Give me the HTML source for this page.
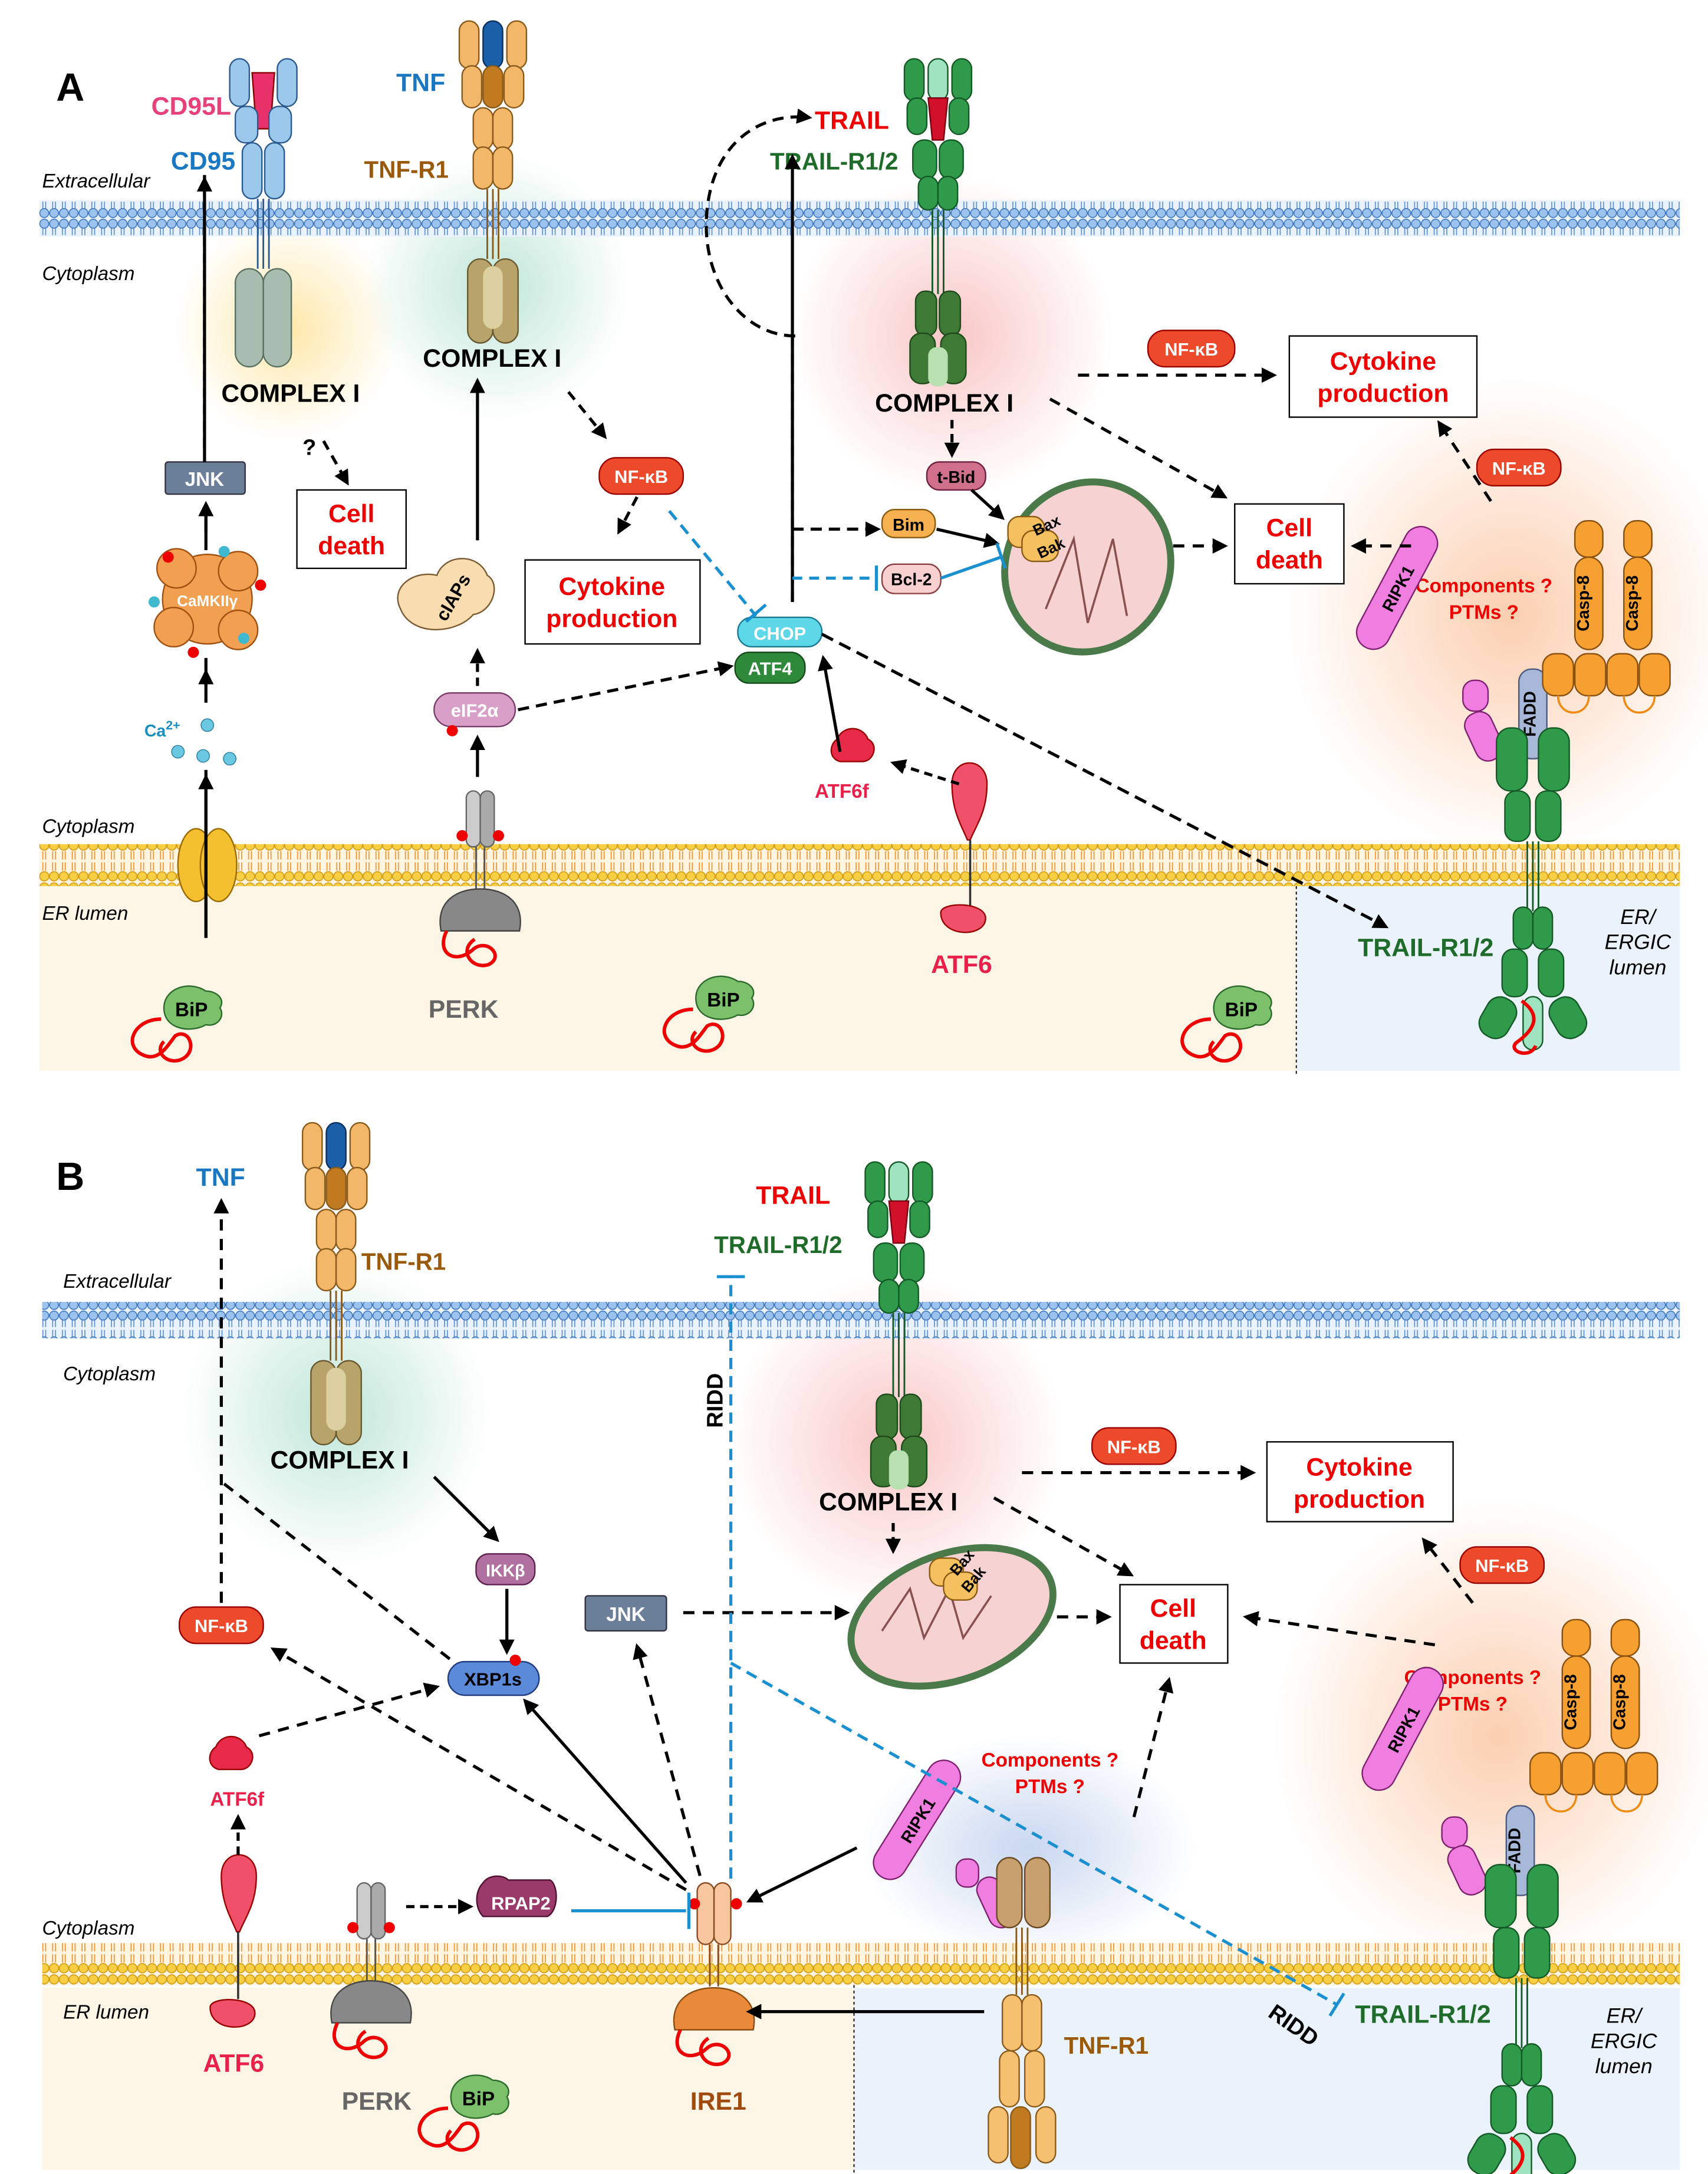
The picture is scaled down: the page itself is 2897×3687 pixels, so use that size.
<!DOCTYPE html>
<html><head><meta charset="utf-8"><style>
html,body{margin:0;padding:0;background:#fff}
svg{display:block}
text{font-family:"Liberation Sans",Arial,sans-serif}
.b{font-weight:bold}
.i{font-style:italic}
</style></head><body>
<svg width="2897" height="3687" viewBox="0 0 1220 1553" xmlns="http://www.w3.org/2000/svg">
<defs>
<pattern id="mB" width="7" height="26" patternUnits="userSpaceOnUse">
<rect width="7" height="26" fill="#eaf2fb"/>
<path d="M2.5 7v5M4.5 7v5M2.5 14v5M4.5 14v5" stroke="#5a8fd0" stroke-width="0.7"/>
<circle cx="3.5" cy="3.8" r="3.2" fill="#9cc3ee" stroke="#3f77bf" stroke-width="0.7"/>
<circle cx="3.5" cy="22.2" r="3.2" fill="#9cc3ee" stroke="#3f77bf" stroke-width="0.7"/>
</pattern>
<pattern id="mY" width="7" height="30" patternUnits="userSpaceOnUse">
<rect width="7" height="30" fill="#fff5e0"/>
<path d="M2.5 8v6M4.5 8v6M2.5 16v6M4.5 16v6" stroke="#f0902a" stroke-width="0.7"/>
<circle cx="3.5" cy="4" r="3.3" fill="#f7cf45" stroke="#d49a10" stroke-width="0.7"/>
<circle cx="3.5" cy="26" r="3.3" fill="#f7cf45" stroke="#d49a10" stroke-width="0.7"/>
</pattern>
<radialGradient id="gY"><stop offset="0" stop-color="#fde7a8"/><stop offset="1" stop-color="#fde7a8" stop-opacity="0"/></radialGradient>
<radialGradient id="gT"><stop offset="0" stop-color="#bfe6da"/><stop offset="1" stop-color="#bfe6da" stop-opacity="0"/></radialGradient>
<radialGradient id="gP"><stop offset="0" stop-color="#f9c6c6"/><stop offset="1" stop-color="#f9c6c6" stop-opacity="0"/></radialGradient>
<radialGradient id="gO"><stop offset="0" stop-color="#fbcfb0"/><stop offset="1" stop-color="#fbcfb0" stop-opacity="0"/></radialGradient>
<radialGradient id="gBl"><stop offset="0" stop-color="#c9d7f0"/><stop offset="1" stop-color="#c9d7f0" stop-opacity="0"/></radialGradient>
<marker id="ah" viewBox="0 0 10 10" refX="8" refY="5" markerWidth="5" markerHeight="5" orient="auto"><path d="M0 0L10 5L0 10z" fill="#000"/></marker>
<g id="trailR">
<rect x="-24" y="0" width="14" height="30" rx="7" fill="#2e9a4a" stroke="#145a26"/>
<rect x="10" y="0" width="14" height="30" rx="7" fill="#2e9a4a" stroke="#145a26"/>
<rect x="-7" y="0" width="14" height="30" rx="7" fill="#9fe3c0" stroke="#145a26"/>
<rect x="-22" y="28" width="14" height="26" rx="7" fill="#2e9a4a" stroke="#145a26"/>
<rect x="8" y="28" width="14" height="26" rx="7" fill="#2e9a4a" stroke="#145a26"/>
<path d="M-7 28h14l-3 30h-8z" fill="#d1102a" stroke="#7a0010"/>
<rect x="-18" y="58" width="17" height="28" rx="8" fill="#2e9a4a" stroke="#145a26"/>
<rect x="1" y="58" width="17" height="28" rx="8" fill="#2e9a4a" stroke="#145a26"/>
<rect x="-14" y="84" width="14" height="24" rx="7" fill="#2e9a4a" stroke="#145a26"/>
<rect x="0" y="84" width="14" height="24" rx="7" fill="#2e9a4a" stroke="#145a26"/>
<path d="M-4 108v60M0 108v60M4 108v60" stroke="#145a26" stroke-width="1.2"/>
<rect x="-16" y="166" width="15" height="32" rx="7" fill="#3e7a36" stroke="#1e4a1a"/>
<rect x="1" y="166" width="15" height="32" rx="7" fill="#3e7a36" stroke="#1e4a1a"/>
<rect x="-20" y="196" width="18" height="36" rx="8" fill="#3e7a36" stroke="#1e4a1a"/>
<rect x="2" y="196" width="18" height="36" rx="8" fill="#3e7a36" stroke="#1e4a1a"/>
<rect x="-7" y="206" width="14" height="28" rx="6" fill="#b8e0b0"/>
</g>
<g id="tnfR">
<rect x="-24" y="0" width="14" height="34" rx="7" fill="#f2b768" stroke="#8a5a1a"/>
<rect x="10" y="0" width="14" height="34" rx="7" fill="#f2b768" stroke="#8a5a1a"/>
<rect x="-7" y="0" width="14" height="34" rx="7" fill="#1a5fa8" stroke="#0a3060"/>
<rect x="-22" y="32" width="14" height="30" rx="7" fill="#f2b768" stroke="#8a5a1a"/>
<rect x="8" y="32" width="14" height="30" rx="7" fill="#f2b768" stroke="#8a5a1a"/>
<rect x="-7" y="32" width="14" height="30" rx="7" fill="#c07a20" stroke="#8a5a1a"/>
<rect x="-14" y="62" width="14" height="30" rx="7" fill="#f2b768" stroke="#8a5a1a"/>
<rect x="0" y="62" width="14" height="30" rx="7" fill="#f2b768" stroke="#8a5a1a"/>
<rect x="-14" y="90" width="14" height="30" rx="7" fill="#f2b768" stroke="#8a5a1a"/>
<rect x="0" y="90" width="14" height="30" rx="7" fill="#f2b768" stroke="#8a5a1a"/>
<path d="M-4 120v50M0 120v50M4 120v50" stroke="#8a5a1a" stroke-width="1.2"/>
<rect x="-18" y="170" width="18" height="60" rx="9" fill="#b8a46a" stroke="#6a5a30"/>
<rect x="0" y="170" width="18" height="60" rx="9" fill="#b8a46a" stroke="#6a5a30"/>
<rect x="-7" y="175" width="14" height="45" rx="7" fill="#ddd0a0"/>
</g>
<g id="bip">
<path d="M-18 0c0-14 18-20 30-12c8 0 14 6 10 12c4 6-2 14-10 12c-10 6-30 4-30-12z" fill="#7cc06c" stroke="#2a6a2a"/>
<text x="-10" y="6" font-size="14" class="b" fill="#000">BiP</text>
<path d="M-20 8c-20 0-28 20-12 26c10 4 16-6 22-14c10-6 16 10 6 16c-10 6-22-4-14-12" fill="none" stroke="#e00" stroke-width="2.5"/>
</g>
<g id="perk">
<rect x="-10" y="0" width="10" height="40" rx="5" fill="#ccc" stroke="#666"/>
<rect x="0" y="0" width="10" height="40" rx="5" fill="#aaa" stroke="#666"/>
<circle cx="-13" cy="32" r="4" fill="#e00"/><circle cx="13" cy="32" r="4" fill="#e00"/>
<path d="M-3 40v30M3 40v30" stroke="#555" stroke-width="1.2"/>
<path d="M-28 100c-4-20 10-30 28-30s32 10 28 30z" fill="#888" stroke="#444"/>
<path d="M-24 100c-8 16 6 24 18 14c10-10 24 4 12 10c-12 4-22-10-10-18" fill="none" stroke="#e00" stroke-width="2.5"/>
</g>
</defs>

<!-- ===== PANEL A ===== -->
<rect x="28" y="633" width="898" height="132" fill="#fdf6e6"/>
<rect x="926" y="633" width="274" height="132" fill="#eaf3fb"/>
<line x1="926" y1="605" x2="926" y2="768" stroke="#000" stroke-dasharray="2 2" stroke-width="0.8"/>

<circle cx="205" cy="235" r="80" fill="url(#gY)"/>
<circle cx="355" cy="205" r="95" fill="url(#gT)"/>
<circle cx="680" cy="240" r="115" fill="url(#gP)"/>
<ellipse cx="1080" cy="440" rx="160" ry="170" fill="url(#gO)"/>

<rect x="28" y="143" width="1172" height="26" fill="url(#mB)"/>
<rect x="28" y="603" width="1172" height="30" fill="url(#mY)"/>

<text x="40" y="72" font-size="28" class="b">A</text>
<text x="108" y="82" font-size="18" class="b" fill="#e8407a">CD95L</text>
<text x="122" y="121" font-size="18" class="b" fill="#1a78c2">CD95</text>
<text x="30" y="134" font-size="14" class="i">Extracellular</text>
<text x="30" y="200" font-size="14" class="i">Cytoplasm</text>

<!-- CD95 receptor -->
<g transform="translate(188,42)">
<rect x="-24" y="0" width="14" height="34" rx="7" fill="#9cc8ec" stroke="#2a5a90"/>
<rect x="10" y="0" width="14" height="34" rx="7" fill="#9cc8ec" stroke="#2a5a90"/>
<path d="M-8 10h16l-3 40h-10z" fill="#e8306a" stroke="#800"/>
<rect x="-20" y="34" width="16" height="26" rx="7" fill="#9cc8ec" stroke="#2a5a90"/>
<rect x="4" y="34" width="16" height="26" rx="7" fill="#9cc8ec" stroke="#2a5a90"/>
<rect x="-15" y="60" width="14" height="40" rx="7" fill="#9cc8ec" stroke="#2a5a90"/>
<rect x="1" y="60" width="14" height="40" rx="7" fill="#9cc8ec" stroke="#2a5a90"/>
<path d="M-4 100v50M0 100v50M4 100v50" stroke="#2a5a90" stroke-width="1.2"/>
<rect x="-20" y="150" width="20" height="70" rx="10" fill="#a8bdb0" stroke="#5a7060"/>
<rect x="0" y="150" width="20" height="70" rx="10" fill="#a8bdb0" stroke="#5a7060"/>
</g>
<text x="158" y="287" font-size="18" class="b">COMPLEX I</text>

<g transform="translate(352,15)"><use href="#tnfR"/></g>
<text x="283" y="65" font-size="18" class="b" fill="#1a78c2">TNF</text>
<text x="260" y="127" font-size="17" class="b" fill="#9b5a0a">TNF-R1</text>
<text x="302" y="262" font-size="18" class="b">COMPLEX I</text>

<g transform="translate(670,42)"><use href="#trailR"/></g>
<text x="582" y="92" font-size="18" class="b" fill="#e00">TRAIL</text>
<text x="550" y="121" font-size="17" class="b" fill="#1f6b2a">TRAIL-R1/2</text>
<text x="625" y="294" font-size="18" class="b">COMPLEX I</text>

<!-- boxes -->
<rect x="921" y="240" width="134" height="58" fill="#fff" stroke="#000"/>
<text x="988" y="264" font-size="18" class="b" fill="#e00" text-anchor="middle">Cytokine</text>
<text x="988" y="287" font-size="18" class="b" fill="#e00" text-anchor="middle">production</text>
<rect x="212" y="350" width="78" height="56" fill="#fff" stroke="#000"/>
<text x="251" y="373" font-size="18" class="b" fill="#e00" text-anchor="middle">Cell</text>
<text x="251" y="396" font-size="18" class="b" fill="#e00" text-anchor="middle">death</text>
<rect x="375" y="400" width="125" height="60" fill="#fff" stroke="#000"/>
<text x="437" y="425" font-size="18" class="b" fill="#e00" text-anchor="middle">Cytokine</text>
<text x="437" y="448" font-size="18" class="b" fill="#e00" text-anchor="middle">production</text>
<rect x="882" y="360" width="78" height="57" fill="#fff" stroke="#000"/>
<text x="921" y="383" font-size="18" class="b" fill="#e00" text-anchor="middle">Cell</text>
<text x="921" y="406" font-size="18" class="b" fill="#e00" text-anchor="middle">death</text>

<!-- NF-kB pills A -->
<g font-size="13" class="b" fill="#fff" text-anchor="middle">
<rect x="820" y="236" width="62" height="26" rx="12" fill="#ec4a2a" stroke="#900"/><text x="851" y="254">NF-κB</text>
<rect x="428" y="327" width="60" height="26" rx="12" fill="#ec4a2a" stroke="#900"/><text x="458" y="345">NF-κB</text>
<rect x="1055" y="321" width="60" height="26" rx="12" fill="#ec4a2a" stroke="#900"/><text x="1085" y="339">NF-κB</text>
</g>

<rect x="118" y="330" width="57" height="23" rx="2" fill="#6b7f99" stroke="#334"/>
<text x="146" y="347" font-size="14" class="b" fill="#fff" text-anchor="middle">JNK</text>
<!-- CaMKII -->
<g transform="translate(148,428)">
<circle r="32" fill="#f0a050" stroke="#a05010"/>
<circle cx="-22" cy="-22" r="14" fill="#f0a050" stroke="#a05010"/>
<circle cx="22" cy="-20" r="14" fill="#f0a050" stroke="#a05010"/>
<circle cx="-24" cy="20" r="14" fill="#f0a050" stroke="#a05010"/>
<circle cx="22" cy="22" r="14" fill="#f0a050" stroke="#a05010"/>
<circle cx="-28" cy="-30" r="4" fill="#e00"/><circle cx="38" cy="-10" r="4" fill="#e00"/><circle cx="-10" cy="38" r="4" fill="#e00"/>
<circle cx="12" cy="-34" r="4" fill="#40b8d0"/><circle cx="-38" cy="2" r="4" fill="#40b8d0"/><circle cx="26" cy="28" r="4" fill="#40b8d0"/>
<text x="0" y="5" font-size="11" class="b" fill="#fff" text-anchor="middle">CaMKIIγ</text>
</g>
<text x="103" y="526" font-size="12" class="b" fill="#1a90c0">Ca<tspan font-size="9" dy="-5">2+</tspan></text>
<g fill="#6ac8e0" stroke="#2a7aa0" stroke-width="0.6">
<circle cx="148" cy="518" r="4.5"/><circle cx="127" cy="537" r="4.5"/><circle cx="145" cy="540" r="4.5"/><circle cx="164" cy="542" r="4.5"/>
</g>
<!-- Ca channel -->
<g transform="translate(148,618)">
<ellipse cx="-8" cy="0" rx="13" ry="26" fill="#f5c030" stroke="#9a6a00"/>
<ellipse cx="8" cy="0" rx="13" ry="26" fill="#f5c030" stroke="#9a6a00"/>
</g>
<!-- cIAPs -->
<g transform="translate(322,425)">
<path d="M-36 10c-8-16 10-28 26-24c6-16 30-16 36 0c10 6 4 26-10 28c-12 14-44 16-52-4z" fill="#f9dcb0" stroke="#7a5a30"/>
<text x="2" y="6" font-size="13" class="b" text-anchor="middle" transform="rotate(-60 2 2)">cIAPs</text>
</g>
<rect x="310" y="495" width="58" height="24" rx="12" fill="#d8a0c8" stroke="#7a3a6a"/>
<text x="339" y="512" font-size="13" class="b" fill="#fff" text-anchor="middle">eIF2α</text>
<circle cx="323" cy="522" r="4" fill="#e00"/>
<g transform="translate(343,565)"><use href="#perk"/></g>
<text x="306" y="727" font-size="18" class="b" fill="#666">PERK</text>

<rect x="527" y="441" width="60" height="21" rx="10" fill="#5cd8e8" stroke="#1a7a90"/>
<text x="557" y="457" font-size="13" class="b" fill="#fff" text-anchor="middle">CHOP</text>
<rect x="525" y="466" width="50" height="22" rx="10" fill="#2e8a3a" stroke="#144a1a"/>
<text x="550" y="482" font-size="13" class="b" fill="#fff" text-anchor="middle">ATF4</text>

<path d="M598 528c4-10 18-10 22 0c8 4 4 16-4 16h-16c-8-2-8-12-2-16z" fill="#e82a4a" stroke="#900"/>
<text x="582" y="570" font-size="14" class="b" fill="#e8204a">ATF6f</text>
<path d="M680 560c0-20 25-20 25 0c0 20-8 30-12 40h-2c-4-10-11-20-11-40z" fill="#f0506a" stroke="#900"/>
<path d="M693 600v48" stroke="#333" stroke-width="1.5"/>
<path d="M672 652c0-8 32-8 32 4c0 14-32 14-32-4z" fill="#f0506a" stroke="#900"/>
<text x="665" y="695" font-size="18" class="b" fill="#e8204a">ATF6</text>

<!-- mito A -->
<g transform="translate(777,405)">
<ellipse rx="58" ry="62" fill="#f7d2d2" stroke="#4a7a4a" stroke-width="5" transform="rotate(35)"/>
<path d="M-30 30l20-50 10 60 18-60 10 55" fill="none" stroke="#8a5050" stroke-width="1.5"/>
</g>
<g transform="translate(740,383)">
<rect x="-20" y="-14" width="26" height="22" rx="8" fill="#f5c060" stroke="#8a5a10"/>
<rect x="-10" y="-4" width="26" height="22" rx="8" fill="#f5c060" stroke="#8a5a10"/>
<text x="0" y="0" font-size="11" class="b" transform="rotate(-25)">Bax</text>
<text x="-4" y="16" font-size="11" class="b" transform="rotate(-25)">Bak</text>
</g>
<rect x="662" y="330" width="42" height="20" rx="9" fill="#d0708a" stroke="#702040"/>
<text x="683" y="345" font-size="12" class="b" text-anchor="middle">t-Bid</text>
<rect x="630" y="364" width="38" height="20" rx="9" fill="#f5b050" stroke="#8a5a10"/>
<text x="649" y="379" font-size="12" class="b" text-anchor="middle">Bim</text>
<rect x="630" y="403" width="42" height="21" rx="9" fill="#f8d0d0" stroke="#8a4040"/>
<text x="651" y="418" font-size="12" class="b" text-anchor="middle">Bcl-2</text>

<!-- right death complex A -->
<text x="1060" y="423" font-size="14" class="b" fill="#e00" text-anchor="middle">Components ?</text>
<text x="1060" y="442" font-size="14" class="b" fill="#e00" text-anchor="middle">PTMs ?</text>
<g transform="translate(998,420) rotate(-62)">
<rect x="-48" y="-12" width="96" height="24" rx="12" fill="#f07ee0" stroke="#802070"/>
<text x="0" y="5" font-size="12" class="b" text-anchor="middle">RIPK1</text>
</g>
<rect x="1045" y="486" width="18" height="22" rx="8" fill="#f07ee0" stroke="#802070"/>
<rect x="1050" y="508" width="20" height="36" rx="9" fill="#f07ee0" stroke="#802070" transform="rotate(-25 1060 526)"/>
<rect x="1085" y="478" width="20" height="64" rx="9" fill="#a8b8d8" stroke="#4a5a80"/>
<text x="1095" y="512" font-size="12" class="b" text-anchor="middle" transform="rotate(-90 1095 510)">FADD</text>
<g fill="#f5a030" stroke="#8a5010">
<rect x="1125" y="372" width="20" height="26" rx="9"/><rect x="1125" y="398" width="20" height="66" rx="10"/>
<rect x="1160" y="372" width="20" height="26" rx="9"/><rect x="1160" y="398" width="20" height="66" rx="10"/>
<rect x="1102" y="467" width="22" height="30" rx="9"/><rect x="1125" y="467" width="22" height="30" rx="9"/>
<rect x="1148" y="467" width="22" height="30" rx="9"/><rect x="1171" y="467" width="22" height="30" rx="9"/>
</g>
<text x="1135" y="431" font-size="12" class="b" text-anchor="middle" transform="rotate(-90 1135 431)">Casp-8</text>
<text x="1170" y="431" font-size="12" class="b" text-anchor="middle" transform="rotate(-90 1170 431)">Casp-8</text>
<path d="M1113 497c0 16 22 16 22 0M1160 497c0 16 22 16 22 0" fill="none" stroke="#f08a10" stroke-width="1.5"/>
<g transform="translate(1095,520)">
<rect x="-26" y="0" width="22" height="45" rx="10" fill="#2e9a4a" stroke="#145a26"/>
<rect x="4" y="0" width="22" height="45" rx="10" fill="#2e9a4a" stroke="#145a26"/>
<rect x="-20" y="45" width="18" height="36" rx="8" fill="#2e9a4a" stroke="#145a26"/>
<rect x="2" y="45" width="18" height="36" rx="8" fill="#2e9a4a" stroke="#145a26"/>
<path d="M-4 81v50M0 81v50M4 81v50" stroke="#145a26" stroke-width="1.2"/>
<rect x="-14" y="128" width="14" height="30" rx="7" fill="#2e9a4a" stroke="#145a26"/>
<rect x="0" y="128" width="14" height="30" rx="7" fill="#2e9a4a" stroke="#145a26"/>
<rect x="-22" y="158" width="18" height="34" rx="8" fill="#2e9a4a" stroke="#145a26"/>
<rect x="4" y="158" width="18" height="34" rx="8" fill="#2e9a4a" stroke="#145a26"/>
<rect x="-36" y="192" width="22" height="30" rx="10" fill="#2e9a4a" stroke="#145a26" transform="rotate(30 -25 207)"/>
<rect x="14" y="192" width="22" height="30" rx="10" fill="#2e9a4a" stroke="#145a26" transform="rotate(-30 25 207)"/>
<rect x="-7" y="192" width="14" height="38" rx="7" fill="#9fe3c0" stroke="#145a26"/>
<path d="M-8 195c14 10 10 20-4 30c-6 6 10 12 14 2" fill="none" stroke="#e00" stroke-width="2.5"/>
</g>
<text x="970" y="683" font-size="18" class="b" fill="#1f6b2a">TRAIL-R1/2</text>
<text x="1170" y="660" font-size="15" class="i" text-anchor="middle">ER/</text>
<text x="1170" y="678" font-size="15" class="i" text-anchor="middle">ERGIC</text>
<text x="1170" y="696" font-size="15" class="i" text-anchor="middle">lumen</text>

<text x="30" y="595" font-size="14" class="i">Cytoplasm</text>
<text x="30" y="657" font-size="14" class="i">ER lumen</text>
<g transform="translate(135,720)"><use href="#bip"/></g>
<g transform="translate(515,713)"><use href="#bip"/></g>
<g transform="translate(885,720)"><use href="#bip"/></g>

<!-- arrows A -->
<g stroke="#000" stroke-width="2.2" fill="none">
<path d="M147 670V550M147 490V470M147 393V368M146 330V125" />
<path d="M146 320V128" stroke-dasharray="7 5" marker-end="url(#ah)"/>
<path d="M147 670V555" marker-end="url(#ah)"/>
<path d="M147 502V480" marker-end="url(#ah)"/>
<path d="M147 380V360" marker-end="url(#ah)"/>
<path d="M231 315L248 345" stroke-dasharray="7 5" marker-end="url(#ah)"/>
<path d="M341 386V272" marker-end="url(#ah)"/>
<path d="M341 490V465" stroke-dasharray="6 4" marker-end="url(#ah)"/>
<path d="M341 555V527" marker-end="url(#ah)"/>
<path d="M406 280L432 312" stroke-dasharray="7 5" marker-end="url(#ah)"/>
<path d="M455 355L442 380" stroke-dasharray="7 5" marker-end="url(#ah)"/>
<path d="M370 507L522 476" stroke-dasharray="8 5" marker-end="url(#ah)"/>
<path d="M568 240C530 240 500 200 505 150C510 100 545 80 578 84" stroke-dasharray="8 5" marker-end="url(#ah)"/>
<path d="M566 430V112" marker-end="url(#ah)"/>
<path d="M566 240V430" stroke-dasharray="8 5"/>
<path d="M566 378H627" stroke-dasharray="8 5" marker-end="url(#ah)"/>
<path d="M669 378L712 388" marker-end="url(#ah)"/>
<path d="M694 350L716 370" marker-end="url(#ah)"/>
<path d="M680 300V325" stroke-dasharray="6 4" marker-end="url(#ah)"/>
<path d="M600 537L588 470" marker-end="url(#ah)"/>
<path d="M685 560L638 545" stroke-dasharray="6 4" marker-end="url(#ah)"/>
<path d="M587 453L990 662" stroke-dasharray="9 5" marker-end="url(#ah)"/>
<path d="M770 268H910" stroke-dasharray="8 6" marker-end="url(#ah)"/>
<path d="M750 285L875 355" stroke-dasharray="8 6" marker-end="url(#ah)"/>
<path d="M838 390H875" stroke-dasharray="8 6" marker-end="url(#ah)"/>
<path d="M1008 390H967" stroke-dasharray="8 6" marker-end="url(#ah)"/>
<path d="M1065 358L1028 302" stroke-dasharray="8 6" marker-end="url(#ah)"/>
</g>
<text x="216" y="325" font-size="16" class="b">?</text>
<g stroke="#1a90d0" stroke-width="2.2" fill="none">
<path d="M478 365L540 440" stroke-dasharray="8 5"/><path d="M533 444l14-12"/>
<path d="M566 413H624" stroke-dasharray="7 5"/><path d="M626 404v18"/>
<path d="M672 413L715 398"/><path d="M712 388l6 18"/>
</g>

<!-- ===== PANEL B ===== -->
<rect x="30" y="1420" width="580" height="130" fill="#fdf6e6"/>
<rect x="610" y="1420" width="590" height="130" fill="#eaf3fb"/>
<line x1="610" y1="1390" x2="610" y2="1553" stroke="#000" stroke-dasharray="2 2" stroke-width="0.8"/>

<circle cx="240" cy="1010" r="110" fill="url(#gT)"/>
<circle cx="640" cy="1030" r="120" fill="url(#gP)"/>
<ellipse cx="1070" cy="1240" rx="160" ry="170" fill="url(#gO)"/>
<ellipse cx="735" cy="1320" rx="120" ry="80" fill="url(#gBl)"/>

<rect x="30" y="930" width="1170" height="26" fill="url(#mB)"/>
<rect x="30" y="1388" width="1170" height="30" fill="url(#mY)"/>

<text x="40" y="850" font-size="28" class="b">B</text>
<text x="140" y="847" font-size="18" class="b" fill="#1a78c2">TNF</text>
<text x="258" y="907" font-size="17" class="b" fill="#9b5a0a">TNF-R1</text>
<text x="45" y="920" font-size="14" class="i">Extracellular</text>
<text x="45" y="986" font-size="14" class="i">Cytoplasm</text>
<g transform="translate(240,802)"><use href="#tnfR"/></g>
<text x="193" y="1049" font-size="18" class="b">COMPLEX I</text>
<g transform="translate(642,830)"><use href="#trailR"/></g>
<text x="540" y="860" font-size="18" class="b" fill="#e00">TRAIL</text>
<text x="510" y="895" font-size="17" class="b" fill="#1f6b2a">TRAIL-R1/2</text>
<text x="585" y="1079" font-size="18" class="b">COMPLEX I</text>
<text x="516" y="1020" font-size="16" class="b" transform="rotate(-90 516 1020)">RIDD</text>

<rect x="905" y="1030" width="133" height="57" fill="#fff" stroke="#000"/>
<text x="971" y="1054" font-size="18" class="b" fill="#e00" text-anchor="middle">Cytokine</text>
<text x="971" y="1077" font-size="18" class="b" fill="#e00" text-anchor="middle">production</text>
<rect x="800" y="1132" width="77" height="56" fill="#fff" stroke="#000"/>
<text x="838" y="1155" font-size="18" class="b" fill="#e00" text-anchor="middle">Cell</text>
<text x="838" y="1178" font-size="18" class="b" fill="#e00" text-anchor="middle">death</text>

<g font-size="13" class="b" fill="#fff" text-anchor="middle">
<rect x="780" y="1020" width="60" height="26" rx="12" fill="#ec4a2a" stroke="#900"/><text x="810" y="1038">NF-κB</text>
<rect x="1043" y="1105" width="60" height="26" rx="12" fill="#ec4a2a" stroke="#900"/><text x="1073" y="1123">NF-κB</text>
<rect x="128" y="1148" width="60" height="26" rx="12" fill="#ec4a2a" stroke="#900"/><text x="158" y="1166">NF-κB</text>
</g>
<rect x="340" y="1110" width="42" height="22" rx="9" fill="#b070a0" stroke="#602050"/>
<text x="361" y="1126" font-size="12" class="b" fill="#fff" text-anchor="middle">IKKβ</text>
<rect x="320" y="1187" width="65" height="24" rx="12" fill="#5a8ad8" stroke="#203a80"/>
<text x="352" y="1204" font-size="13" class="b" text-anchor="middle">XBP1s</text>
<circle cx="368" cy="1186" r="4" fill="#e00"/>
<rect x="418" y="1140" width="58" height="25" rx="2" fill="#6b7f99" stroke="#334"/>
<text x="447" y="1158" font-size="14" class="b" fill="#fff" text-anchor="middle">JNK</text>

<path d="M154 1248c4-10 18-10 22 0c8 4 4 16-4 16h-16c-8-2-8-12-2-16z" fill="#e82a4a" stroke="#900"/>
<text x="150" y="1290" font-size="14" class="b" fill="#e8204a">ATF6f</text>
<path d="M158 1340c0-20 25-20 25 0c0 20-8 30-12 40h-2c-4-10-11-20-11-40z" fill="#f0506a" stroke="#900"/>
<path d="M170 1380v48" stroke="#333" stroke-width="1.5"/>
<path d="M150 1434c0-8 32-8 32 4c0 14-32 14-32-4z" fill="#f0506a" stroke="#900"/>
<text x="145" y="1480" font-size="18" class="b" fill="#e8204a">ATF6</text>

<g transform="translate(265,1345)"><use href="#perk"/></g>
<text x="244" y="1507" font-size="18" class="b" fill="#666">PERK</text>
<g transform="translate(340,1498)"><use href="#bip"/></g>
<path d="M345 1345c4-6 14-6 18-2h30c6 4 6 22-2 26h-46c-6-6-6-18 0-24z" fill="#9a3a6a" stroke="#501030"/>
<text x="372" y="1364" font-size="13" class="b" fill="#fff" text-anchor="middle">RPAP2</text>

<!-- IRE1 -->
<g transform="translate(510,1345)">
<rect x="-12" y="0" width="12" height="44" rx="6" fill="#f7c8a0" stroke="#8a4a20"/>
<rect x="0" y="0" width="12" height="44" rx="6" fill="#f7c8a0" stroke="#8a4a20"/>
<circle cx="-14" cy="15" r="4" fill="#e00"/><circle cx="16" cy="15" r="4" fill="#e00"/>
<path d="M-3 44v30M3 44v30" stroke="#8a4a20" stroke-width="1.2"/>
<path d="M-28 105c-4-20 10-30 28-30s32 10 28 30z" fill="#e88a3a" stroke="#8a4a10"/>
<path d="M-24 105c-8 16 6 24 18 14c10-10 24 4 12 10c-12 4-22-10-10-18" fill="none" stroke="#e00" stroke-width="2.5"/>
</g>
<text x="493" y="1507" font-size="18" class="b" fill="#a04a10">IRE1</text>

<!-- mito B -->
<g transform="translate(680,1155)">
<ellipse rx="45" ry="75" fill="#f7d2d2" stroke="#4a7a4a" stroke-width="5" transform="rotate(70)"/>
<path d="M-50 10l20-30 10 35 18-35 10 35 20-30" fill="none" stroke="#8a5050" stroke-width="1.5"/>
</g>
<g transform="translate(682,1125)">
<rect x="-18" y="-12" width="24" height="20" rx="8" fill="#f5c060" stroke="#8a5a10"/>
<rect x="-8" y="-2" width="24" height="20" rx="8" fill="#f5c060" stroke="#8a5a10"/>
<text x="0" y="2" font-size="11" class="b" transform="rotate(-50)">Bax</text>
<text x="-4" y="16" font-size="11" class="b" transform="rotate(-50)">Bak</text>
</g>

<!-- RIPK1 + TNFR1 in ER -->
<g transform="translate(655,1300) rotate(-58)">
<rect x="-48" y="-12" width="96" height="24" rx="12" fill="#f07ee0" stroke="#802070"/>
<text x="0" y="5" font-size="12" class="b" text-anchor="middle">RIPK1</text>
</g>
<rect x="683" y="1328" width="16" height="20" rx="7" fill="#f07ee0" stroke="#802070"/>
<rect x="702" y="1340" width="18" height="38" rx="9" fill="#f07ee0" stroke="#802070" transform="rotate(-25 711 1359)"/>
<rect x="712" y="1327" width="18" height="50" rx="9" fill="#c8a070" stroke="#6a4a20"/>
<rect x="732" y="1327" width="18" height="50" rx="9" fill="#c8a070" stroke="#6a4a20"/>
<path d="M726 1377v48M730 1377v48M734 1377v48" stroke="#8a5a1a" stroke-width="1.2"/>
<g fill="#f5c070" stroke="#8a5a1a">
<rect x="716" y="1425" width="14" height="40" rx="7"/><rect x="730" y="1425" width="14" height="40" rx="7"/>
<rect x="714" y="1465" width="14" height="40" rx="7"/><rect x="732" y="1465" width="14" height="40" rx="7"/>
<rect x="706" y="1505" width="14" height="40" rx="7"/><rect x="740" y="1505" width="14" height="40" rx="7"/>
<rect x="722" y="1505" width="14" height="44" rx="7" fill="#c07a20"/>
</g>
<text x="760" y="1467" font-size="17" class="b" fill="#9b5a0a">TNF-R1</text>

<text x="750" y="1262" font-size="14" class="b" fill="#e00" text-anchor="middle">Components ?</text>
<text x="750" y="1281" font-size="14" class="b" fill="#e00" text-anchor="middle">PTMs ?</text>

<!-- right complex B -->
<text x="1052" y="1203" font-size="14" class="b" fill="#e00" text-anchor="middle">Components ?</text>
<text x="1052" y="1222" font-size="14" class="b" fill="#e00" text-anchor="middle">PTMs ?</text>
<g transform="translate(1002,1235) rotate(-62)">
<rect x="-48" y="-12" width="96" height="24" rx="12" fill="#f07ee0" stroke="#802070"/>
<text x="0" y="5" font-size="12" class="b" text-anchor="middle">RIPK1</text>
</g>
<rect x="1030" y="1298" width="18" height="22" rx="8" fill="#f07ee0" stroke="#802070"/>
<rect x="1038" y="1318" width="20" height="36" rx="9" fill="#f07ee0" stroke="#802070" transform="rotate(-25 1048 1336)"/>
<rect x="1076" y="1290" width="20" height="64" rx="9" fill="#a8b8d8" stroke="#4a5a80"/>
<text x="1086" y="1322" font-size="12" class="b" text-anchor="middle" transform="rotate(-90 1086 1322)">FADD</text>
<g fill="#f5a030" stroke="#8a5010">
<rect x="1116" y="1157" width="20" height="26" rx="9"/><rect x="1116" y="1183" width="20" height="66" rx="10"/>
<rect x="1151" y="1157" width="20" height="26" rx="9"/><rect x="1151" y="1183" width="20" height="66" rx="10"/>
<rect x="1093" y="1252" width="22" height="30" rx="9"/><rect x="1116" y="1252" width="22" height="30" rx="9"/>
<rect x="1139" y="1252" width="22" height="30" rx="9"/><rect x="1162" y="1252" width="22" height="30" rx="9"/>
</g>
<text x="1126" y="1216" font-size="12" class="b" text-anchor="middle" transform="rotate(-90 1126 1216)">Casp-8</text>
<text x="1161" y="1216" font-size="12" class="b" text-anchor="middle" transform="rotate(-90 1161 1216)">Casp-8</text>
<path d="M1104 1282c0 16 22 16 22 0M1151 1282c0 16 22 16 22 0" fill="none" stroke="#f08a10" stroke-width="1.5"/>
<g transform="translate(1087,1332)">
<rect x="-26" y="0" width="22" height="45" rx="10" fill="#2e9a4a" stroke="#145a26"/>
<rect x="4" y="0" width="22" height="45" rx="10" fill="#2e9a4a" stroke="#145a26"/>
<rect x="-20" y="45" width="18" height="36" rx="8" fill="#2e9a4a" stroke="#145a26"/>
<rect x="2" y="45" width="18" height="36" rx="8" fill="#2e9a4a" stroke="#145a26"/>
<path d="M-4 81v50M0 81v50M4 81v50" stroke="#145a26" stroke-width="1.2"/>
<rect x="-14" y="128" width="14" height="30" rx="7" fill="#2e9a4a" stroke="#145a26"/>
<rect x="0" y="128" width="14" height="30" rx="7" fill="#2e9a4a" stroke="#145a26"/>
<rect x="-22" y="158" width="18" height="34" rx="8" fill="#2e9a4a" stroke="#145a26"/>
<rect x="4" y="158" width="18" height="34" rx="8" fill="#2e9a4a" stroke="#145a26"/>
<rect x="-36" y="192" width="22" height="30" rx="10" fill="#2e9a4a" stroke="#145a26" transform="rotate(30 -25 207)"/>
<rect x="14" y="192" width="22" height="30" rx="10" fill="#2e9a4a" stroke="#145a26" transform="rotate(-30 25 207)"/>
<rect x="-7" y="192" width="14" height="38" rx="7" fill="#9fe3c0" stroke="#145a26"/>
<path d="M-8 195c14 10 10 20-4 30c-6 6 10 12 14 2" fill="none" stroke="#e00" stroke-width="2.5"/>
</g>
<text x="968" y="1445" font-size="18" class="b" fill="#1f6b2a">TRAIL-R1/2</text>
<text x="905" y="1440" font-size="16" class="b" transform="rotate(35 905 1440)">RIDD</text>
<text x="1160" y="1445" font-size="15" class="i" text-anchor="middle">ER/</text>
<text x="1160" y="1463" font-size="15" class="i" text-anchor="middle">ERGIC</text>
<text x="1160" y="1481" font-size="15" class="i" text-anchor="middle">lumen</text>
<text x="30" y="1382" font-size="14" class="i">Cytoplasm</text>
<text x="45" y="1442" font-size="14" class="i">ER lumen</text>

<!-- arrows B -->
<g stroke="#000" stroke-width="2.2" fill="none">
<path d="M158 1145V858" stroke-dasharray="8 6" marker-end="url(#ah)"/>
<path d="M160 1060L325 1188" stroke-dasharray="8 6"/>
<path d="M310 1055L355 1100" marker-end="url(#ah)"/>
<path d="M362 1135V1180" marker-end="url(#ah)"/>
<path d="M185 1240L312 1205" stroke-dasharray="8 6" marker-end="url(#ah)"/>
<path d="M170 1325V1298" stroke-dasharray="6 4" marker-end="url(#ah)"/>
<path d="M290 1362H336" stroke-dasharray="6 4" marker-end="url(#ah)"/>
<path d="M490 1345L375 1215" marker-end="url(#ah)"/>
<path d="M490 1350L195 1178" stroke-dasharray="8 6" marker-end="url(#ah)"/>
<path d="M500 1340L455 1176" stroke-dasharray="8 6" marker-end="url(#ah)"/>
<path d="M612 1320L535 1358" marker-end="url(#ah)"/>
<path d="M703 1437H535" marker-end="url(#ah)"/>
<path d="M488 1152H605" stroke-dasharray="8 6" marker-end="url(#ah)"/>
<path d="M638 1088V1108" stroke-dasharray="6 4" marker-end="url(#ah)"/>
<path d="M755 1155H792" stroke-dasharray="8 6" marker-end="url(#ah)"/>
<path d="M730 1052H895" stroke-dasharray="8 6" marker-end="url(#ah)"/>
<path d="M710 1070L808 1125" stroke-dasharray="8 6" marker-end="url(#ah)"/>
<path d="M810 1298L835 1200" stroke-dasharray="8 6" marker-end="url(#ah)"/>
<path d="M1025 1175L890 1155" stroke-dasharray="8 6" marker-end="url(#ah)"/>
<path d="M1052 1145L1017 1100" stroke-dasharray="8 6" marker-end="url(#ah)"/>
</g>
<g stroke="#1a90d0" stroke-width="2.2" fill="none">
<path d="M408 1365H490"/><path d="M492 1352v26"/>
<path d="M522 1342V912" stroke-dasharray="8 5"/><path d="M512 912h20"/>
<path d="M522 1188L955 1432" stroke-dasharray="8 5"/><path d="M950 1440l10-16"/>
</g>
</svg>
</body></html>
